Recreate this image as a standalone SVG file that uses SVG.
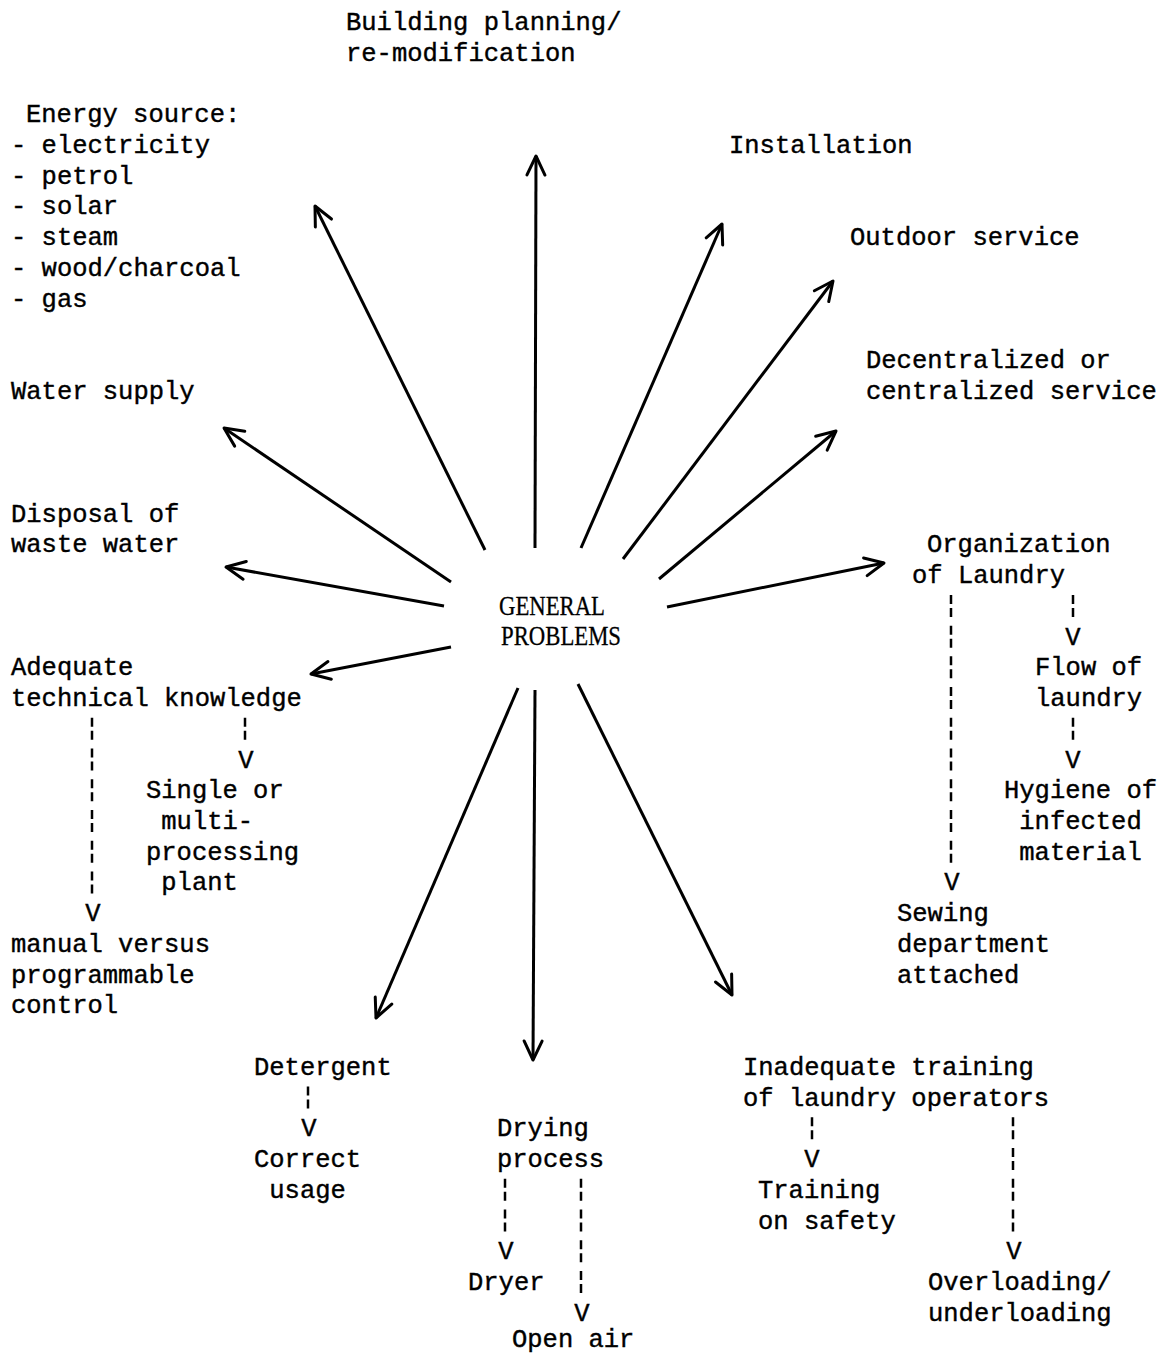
<svg xmlns="http://www.w3.org/2000/svg" width="1161" height="1354" viewBox="0 0 1161 1354">
<style>
text{font-family:"Liberation Mono","DejaVu Sans Mono",monospace;font-size:25.5px;fill:#000;stroke:#000;stroke-width:0.4}
.v{text-anchor:middle}
.c{font-family:"Liberation Serif","Times New Roman",serif;font-size:27px;stroke-width:0.3}
.arr{stroke:#000;stroke-width:3;fill:none;marker-end:url(#ah)}
.dash{stroke:#000;stroke-width:2.5;stroke-dasharray:9 4 9 8.73;fill:none}
</style>
<defs>
<marker id="ah" markerUnits="userSpaceOnUse" markerWidth="26" markerHeight="24" viewBox="-22 -12 26 24" refX="0" refY="0" orient="auto">
<path d="M-19,-9 L0,0 L-19,9" fill="none" stroke="#000" stroke-width="3" stroke-linecap="round" stroke-linejoin="round"/>
</marker>
</defs>
<rect width="1161" height="1354" fill="#fff"/>
<g id="connectors">
<line class="arr" x1="535" y1="548" x2="536" y2="156"/>
<line class="arr" x1="485" y1="550" x2="315" y2="206"/>
<line class="arr" x1="581" y1="548" x2="722" y2="224"/>
<line class="arr" x1="623" y1="559" x2="833" y2="281"/>
<line class="arr" x1="659" y1="579" x2="836" y2="431"/>
<line class="arr" x1="667" y1="607" x2="884" y2="563"/>
<line class="arr" x1="451" y1="582" x2="224" y2="428"/>
<line class="arr" x1="444" y1="606" x2="226" y2="567"/>
<line class="arr" x1="451" y1="647" x2="311" y2="674"/>
<line class="arr" x1="518" y1="688" x2="376" y2="1018"/>
<line class="arr" x1="535" y1="690" x2="533" y2="1060"/>
<line class="arr" x1="578" y1="684" x2="732" y2="995"/>
<line class="dash" x1="245" y1="717.8" x2="245" y2="739.8"/>
<line class="dash" x1="92" y1="717.8" x2="92" y2="898"/>
<line class="dash" x1="1073" y1="594.9" x2="1073" y2="616.9"/>
<line class="dash" x1="1073" y1="717.8" x2="1073" y2="739.8"/>
<line class="dash" x1="951" y1="594.9" x2="951" y2="862.7"/>
<line class="dash" x1="308" y1="1086.6" x2="308" y2="1108.6"/>
<line class="dash" x1="505" y1="1178.7" x2="505" y2="1231.5"/>
<line class="dash" x1="581" y1="1178.7" x2="581" y2="1292.9"/>
<line class="dash" x1="812" y1="1117.3" x2="812" y2="1139.3"/>
<line class="dash" x1="1013" y1="1117.3" x2="1013" y2="1231.5"/>
<text class="v" x="246" y="767.5">V</text>
<text class="v" x="93" y="921.2">V</text>
<text class="v" x="1073" y="644.6">V</text>
<text class="v" x="1073" y="767.5">V</text>
<text class="v" x="952" y="890.4">V</text>
<text class="v" x="309" y="1136.3">V</text>
<text class="v" x="506" y="1259.2">V</text>
<text class="v" x="582" y="1320.7">V</text>
<text class="v" x="812" y="1167">V</text>
<text class="v" x="1014" y="1259.2">V</text>
</g>
<g id="n_center">
<text class="c" x="499" y="615" textLength="106" lengthAdjust="spacingAndGlyphs">GENERAL</text>
<text class="c" x="501" y="645" textLength="120" lengthAdjust="spacingAndGlyphs">PROBLEMS</text>
</g>
<g id="n_building">
<text x="346" y="30">Building planning/</text>
<text x="346" y="60.7">re-modification</text>
</g>
<g id="n_energy">
<text x="26" y="122.2">Energy source:</text>
<text x="11" y="152.9">- electricity</text>
<text x="11" y="183.6">- petrol</text>
<text x="11" y="214.4">- solar</text>
<text x="11" y="245.1">- steam</text>
<text x="11" y="275.8">- wood/charcoal</text>
<text x="11" y="306.6">- gas</text>
</g>
<g id="n_installation"><text x="729" y="152.9">Installation</text></g>
<g id="n_outdoor"><text x="850" y="245.1">Outdoor service</text></g>
<g id="n_decentralized">
<text x="866" y="368">Decentralized or</text>
<text x="866" y="398.8">centralized service</text>
</g>
<g id="n_water"><text x="11" y="398.8">Water supply</text></g>
<g id="n_disposal">
<text x="11" y="521.7">Disposal of</text>
<text x="11" y="552.4">waste water</text>
</g>
<g id="n_organization">
<text x="927" y="552.4">Organization</text>
<text x="912" y="583.1">of Laundry</text>
</g>
<g id="n_adequate">
<text x="11" y="675.3">Adequate</text>
<text x="11" y="706.1">technical knowledge</text>
</g>
<g id="n_single">
<text x="146" y="798.3">Single or</text>
<text x="161.3" y="829">multi-</text>
<text x="146" y="859.7">processing</text>
<text x="161.3" y="890.4">plant</text>
</g>
<g id="n_manual">
<text x="11" y="951.9">manual versus</text>
<text x="11" y="982.6">programmable</text>
<text x="11" y="1013.4">control</text>
</g>
<g id="n_flow">
<text x="1035" y="675.3">Flow of</text>
<text x="1035" y="706.1">laundry</text>
</g>
<g id="n_hygiene">
<text x="1004" y="798.3">Hygiene of</text>
<text x="1019.3" y="829">infected</text>
<text x="1019.3" y="859.7">material</text>
</g>
<g id="n_sewing">
<text x="897" y="921.2">Sewing</text>
<text x="897" y="951.9">department</text>
<text x="897" y="982.6">attached</text>
</g>
<g id="n_detergent"><text x="254" y="1074.8">Detergent</text></g>
<g id="n_correct">
<text x="254" y="1167">Correct</text>
<text x="269.3" y="1197.7">usage</text>
</g>
<g id="n_drying">
<text x="497" y="1136.3">Drying</text>
<text x="497" y="1167">process</text>
</g>
<g id="n_dryer"><text x="468" y="1289.9">Dryer</text></g>
<g id="n_openair"><text x="512" y="1347">Open air</text></g>
<g id="n_inadequate">
<text x="743" y="1074.8">Inadequate training</text>
<text x="743" y="1105.6">of laundry operators</text>
</g>
<g id="n_training">
<text x="758" y="1197.7">Training</text>
<text x="758" y="1228.5">on safety</text>
</g>
<g id="n_overloading">
<text x="928" y="1289.9">Overloading/</text>
<text x="928" y="1320.7">underloading</text>
</g>
</svg>
